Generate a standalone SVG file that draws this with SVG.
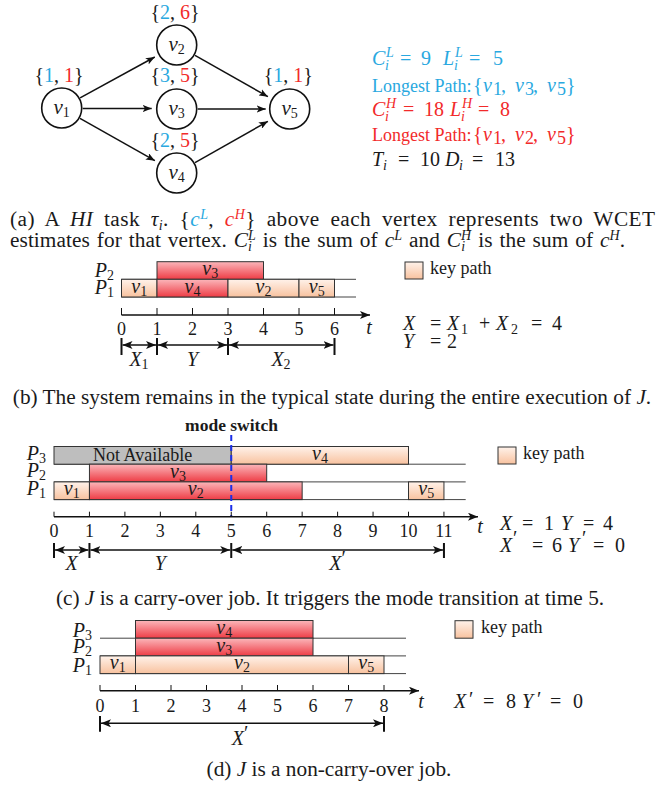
<svg xmlns="http://www.w3.org/2000/svg" width="665" height="787" viewBox="0 0 665 787">
<defs>
<linearGradient id="gK" x1="0" y1="0" x2="0" y2="1"><stop offset="0" stop-color="#fff2ea"/><stop offset="1" stop-color="#f8c29f"/></linearGradient>
<linearGradient id="gR" x1="0" y1="0" x2="0" y2="1"><stop offset="0" stop-color="#fbb6ba"/><stop offset="1" stop-color="#ee3c45"/></linearGradient>
<marker id="ah" viewBox="0 0 10 8" refX="10" refY="4" markerWidth="10" markerHeight="8" markerUnits="userSpaceOnUse" orient="auto-start-reverse"><path d="M0,0 L10,4 L0,8 L2.5,4 Z" fill="#111"/></marker>
<marker id="ahn" viewBox="0 0 10 8" refX="10" refY="4" markerWidth="9" markerHeight="7.2" markerUnits="userSpaceOnUse" orient="auto"><path d="M0,0 L10,4 L0,8 L2.5,4 Z" fill="#111"/></marker>
</defs>
<style>
text { font-family: "Liberation Serif", "Times New Roman", serif; fill: #1a1a1a; }
.i { font-style: italic; }
.cap { font-size: 21.3px; }
.cs { font-size: 14px; }
.lb { font-size: 18px; }
.vl { font-size: 20px; }
.m { font-size: 20px; }
.sm { font-size: 14px; }
.s { font-size: 14px; }
.k { fill: url(#gK); stroke: #333; stroke-width: 1; }
.r { fill: url(#gR); stroke: #333; stroke-width: 1; }
.g { fill: #bebebe; stroke: #333; stroke-width: 1; }
.row { stroke: #444; stroke-width: 1; fill: none; }
.ax { stroke: #111; stroke-width: 1.6; marker-end: url(#ah); fill: none; }
.tk { stroke: #111; stroke-width: 1; fill: none; }
.dim { stroke: #111; stroke-width: 1.6; marker-start: url(#ah); marker-end: url(#ah); }
.bd { stroke: #111; stroke-width: 2; fill: none; }
.node circle { fill: #fff; stroke: #111; stroke-width: 1.6; }
.edge { stroke: #111; stroke-width: 1.5; marker-end: url(#ahn); fill: none; }
.blue { fill: #29a8e0; }
.red { fill: #f22a2a; }
.mid { text-anchor: middle; }
.end { text-anchor: end; }
.ms { stroke: #1a2ee8; stroke-width: 2; stroke-dasharray: 6 4; }
</style>

<!-- (a) graph -->
<g id="edges">
<line class="edge" x1="80.1" y1="97.9" x2="154.8" y2="57"/>
<line class="edge" x1="82.7" y1="108.5" x2="151.7" y2="108.5"/>
<line class="edge" x1="80" y1="118.3" x2="154.9" y2="160.7"/>
<line class="edge" x1="195" y1="55.3" x2="267.9" y2="96.7"/>
<line class="edge" x1="197.7" y1="109" x2="265.7" y2="109"/>
<line class="edge" x1="195" y1="162.7" x2="267.9" y2="121.3"/>
</g>
<g id="v1" class="node">
<circle cx="61.7" cy="108" r="20"/>
<text class="mid" x="61.7" y="113.5" font-size="21"><tspan class="i">v</tspan><tspan font-size="14" dy="3">1</tspan></text>
<text class="mid" x="59" y="82" font-size="20" fill="#333">{<tspan class="blue">1</tspan>, <tspan class="red">1</tspan>}</text>
</g>
<g id="v2" class="node">
<circle cx="176.7" cy="45" r="20"/>
<text class="mid" x="176.7" y="50.5" font-size="21"><tspan class="i">v</tspan><tspan font-size="14" dy="3">2</tspan></text>
<text class="mid" x="175" y="19" font-size="20" fill="#333">{<tspan class="blue">2</tspan>, <tspan class="red">6</tspan>}</text>
</g>
<g id="v3" class="node">
<circle cx="176.7" cy="109" r="20"/>
<text class="mid" x="176.7" y="114.5" font-size="21"><tspan class="i">v</tspan><tspan font-size="14" dy="3">3</tspan></text>
<text class="mid" x="175" y="82" font-size="20" fill="#333">{<tspan class="blue">3</tspan>, <tspan class="red">5</tspan>}</text>
</g>
<g id="v4" class="node">
<circle cx="176.7" cy="173" r="20"/>
<text class="mid" x="176.7" y="178.5" font-size="21"><tspan class="i">v</tspan><tspan font-size="14" dy="3">4</tspan></text>
<text class="mid" x="175" y="147" font-size="20" fill="#333">{<tspan class="blue">2</tspan>, <tspan class="red">5</tspan>}</text>
</g>
<g id="v5" class="node">
<circle cx="289.7" cy="109" r="20"/>
<text class="mid" x="289.7" y="114.5" font-size="21"><tspan class="i">v</tspan><tspan font-size="14" dy="3">5</tspan></text>
<text class="mid" x="288.3" y="82" font-size="20" fill="#333">{<tspan class="blue">1</tspan>, <tspan class="red">1</tspan>}</text>
</g>

<!-- (a) right text -->
<g id="params">
<text class="m blue"><tspan class="i" x="372" y="65">C</tspan><tspan class="i sm" x="386" y="57">L</tspan><tspan class="i sm" x="385" y="70">i</tspan><tspan x="400" y="65">=</tspan><tspan x="421" y="65">9</tspan><tspan class="i" x="443" y="65">L</tspan><tspan class="i sm" x="455" y="57">L</tspan><tspan class="i sm" x="454" y="70">i</tspan><tspan x="469" y="65">=</tspan><tspan x="493" y="65">5</tspan></text>
<text class="lb blue"><tspan x="372" y="91.5">Longest Path:</tspan><tspan x="473" y="91.5" font-size="20">{</tspan><tspan class="i" x="483" y="91.5" font-size="20">v</tspan><tspan x="493" y="95">1</tspan><tspan x="501" y="91.5" font-size="20">,</tspan><tspan class="i" x="515" y="91.5" font-size="20">v</tspan><tspan x="525" y="95">3</tspan><tspan x="533" y="91.5" font-size="20">,</tspan><tspan class="i" x="547" y="91.5" font-size="20">v</tspan><tspan x="557" y="95">5</tspan><tspan x="566" y="91.5" font-size="20">}</tspan></text>
<text class="m red"><tspan class="i" x="372" y="116">C</tspan><tspan class="i sm" x="386" y="108">H</tspan><tspan class="i sm" x="385" y="121">i</tspan><tspan x="403" y="116">=</tspan><tspan x="424" y="116">18</tspan><tspan class="i" x="450" y="116">L</tspan><tspan class="i sm" x="462" y="108">H</tspan><tspan class="i sm" x="461" y="121">i</tspan><tspan x="478" y="116">=</tspan><tspan x="500" y="116">8</tspan></text>
<text class="lb red"><tspan x="372" y="140.7">Longest Path:</tspan><tspan x="473" y="140.7" font-size="20">{</tspan><tspan class="i" x="483" y="140.7" font-size="20">v</tspan><tspan x="493" y="144.2">1</tspan><tspan x="501" y="140.7" font-size="20">,</tspan><tspan class="i" x="515" y="140.7" font-size="20">v</tspan><tspan x="525" y="144.2">2</tspan><tspan x="533" y="140.7" font-size="20">,</tspan><tspan class="i" x="547" y="140.7" font-size="20">v</tspan><tspan x="557" y="144.2">5</tspan><tspan x="566" y="140.7" font-size="20">}</tspan></text>
<text class="m"><tspan class="i" x="372" y="166">T</tspan><tspan class="i sm" x="383" y="170">i</tspan><tspan x="398" y="166">=</tspan><tspan x="420" y="166">10</tspan><tspan class="i" x="445" y="166">D</tspan><tspan class="i sm" x="459" y="170">i</tspan><tspan x="472" y="166">=</tspan><tspan x="495" y="166">13</tspan></text>
</g>

<!-- caption (a) -->
<text class="cap" x="10" y="226" word-spacing="5" textLength="645" lengthAdjust="spacing">(a) A <tspan class="i">HI</tspan> task <tspan class="i">τ</tspan><tspan class="cs i" dy="4">i</tspan><tspan dy="-4">. {</tspan><tspan class="i blue">c</tspan><tspan class="cs i blue" dy="-7">L</tspan><tspan dy="7">, </tspan><tspan class="i red">c</tspan><tspan class="cs i red" dy="-7">H</tspan><tspan dy="7">} above each vertex represents two WCET</tspan></text>
<text class="cap" x="10" y="247" word-spacing="1.5" textLength="615" lengthAdjust="spacing">estimates for that vertex. <tspan class="i">C</tspan><tspan class="cs i" dy="-7">L</tspan><tspan class="cs i" dx="-7.8" dy="11">i</tspan><tspan dx="3.9" dy="-4"> is the sum of </tspan><tspan class="i">c</tspan><tspan class="cs i" dy="-7">L</tspan><tspan dy="7"> and </tspan><tspan class="i">C</tspan><tspan class="cs i" dy="-7">H</tspan><tspan class="cs i" dx="-10.1" dy="11">i</tspan><tspan dx="6.2" dy="-4"> is the sum of </tspan><tspan class="i">c</tspan><tspan class="cs i" dy="-7">H</tspan><tspan dy="7">.</tspan></text>

<!-- (b) -->
<g id="chart-b">
<path class="row" d="M121.5,279.3 H356 M121.5,297 H356"/>
<rect class="r" x="157" y="261.7" width="106.5" height="17.6"/>
<rect class="k" x="121.5" y="279.3" width="35.5" height="17.7"/>
<rect class="r" x="157" y="279.3" width="71" height="17.7"/>
<rect class="k" x="228" y="279.3" width="71" height="17.7"/>
<rect class="k" x="299" y="279.3" width="35.5" height="17.7"/>
<text class="vl mid" x="210.2" y="275"><tspan class="i">v</tspan><tspan class="s" dy="3">3</tspan></text>
<text class="vl mid" x="139.2" y="292.7"><tspan class="i">v</tspan><tspan class="s" dy="3">1</tspan></text>
<text class="vl mid" x="192.5" y="292.7"><tspan class="i">v</tspan><tspan class="s" dy="3">4</tspan></text>
<text class="vl mid" x="263.5" y="292.7"><tspan class="i">v</tspan><tspan class="s" dy="3">2</tspan></text>
<text class="vl mid" x="316.7" y="292.7"><tspan class="i">v</tspan><tspan class="s" dy="3">5</tspan></text>
<text class="vl end" x="114" y="276.5"><tspan class="i">P</tspan><tspan class="s" dy="3">2</tspan></text>
<text class="vl end" x="114" y="294"><tspan class="i">P</tspan><tspan class="s" dy="3">1</tspan></text>
<line class="ax" x1="121.5" y1="315" x2="370" y2="315"/>
<path class="tk" d="M121.5,308V315M157,308V315M192.5,308V315M228,308V315M263.5,308V315M299,308V315M334.5,308V315"/>
<g class="lb mid">
<text x="121.5" y="335">0</text><text x="157" y="335">1</text><text x="192.5" y="335">2</text><text x="228" y="335">3</text><text x="263.5" y="335">4</text><text x="299" y="335">5</text><text x="334.5" y="335">6</text>
<text class="i vl" x="369" y="334">t</text>
</g>
<path class="bd" d="M121.5,338V355M157,338V355M228,338V355M334.5,338V355"/>
<line class="dim" x1="122.5" y1="345" x2="156" y2="345"/>
<line class="dim" x1="158" y1="345" x2="227" y2="345"/>
<line class="dim" x1="229" y1="345" x2="333.5" y2="345"/>
<text class="vl mid" x="139" y="366"><tspan class="i">X</tspan><tspan class="s" dy="3">1</tspan></text>
<text class="vl mid i" x="192.5" y="366">Y</text>
<text class="vl mid" x="281" y="366"><tspan class="i">X</tspan><tspan class="s" dy="3">2</tspan></text>
</g>
<g id="legend-b">
<rect class="k" x="405" y="262" width="18" height="17"/>
<text class="lb" x="430" y="273.5">key path</text>
</g>
<text class="m"><tspan class="i" x="403" y="330">X</tspan><tspan x="430" y="330">=</tspan><tspan class="i" x="447" y="330">X</tspan><tspan class="sm" x="461" y="334">1</tspan><tspan x="479" y="330">+</tspan><tspan class="i" x="496" y="330">X</tspan><tspan class="sm" x="511" y="334">2</tspan><tspan x="531" y="330">=</tspan><tspan x="552" y="330">4</tspan></text>
<text class="m"><tspan class="i" x="403" y="348">Y</tspan><tspan x="430" y="348">=</tspan><tspan x="447" y="348">2</tspan></text>
<text class="cap mid" x="332" y="404">(b) The system remains in the typical state during the entire execution of <tspan class="i">J</tspan>.</text>

<!-- (c) -->
<g id="chart-c">
<text x="231.5" y="431" class="mid" font-size="17.5" font-weight="bold">mode switch</text>
<path class="row" d="M54,464.2 H465.7 M54,481.9 H465.7 M54,499.6 H465.7"/>
<rect class="g" x="54" y="446.5" width="177.25" height="17.7"/>
<rect class="k" x="231.25" y="446.5" width="177.25" height="17.7"/>
<rect class="r" x="89.45" y="464.2" width="177.25" height="17.7"/>
<rect class="k" x="54" y="481.9" width="35.45" height="17.7"/>
<rect class="r" x="89.45" y="481.9" width="212.7" height="17.7"/>
<rect class="k" x="408.5" y="481.9" width="35.45" height="17.7"/>
<text class="lb mid" x="142.6" y="460.5">Not Available</text>
<text class="vl mid" x="320" y="460"><tspan class="i">v</tspan><tspan class="s" dy="3">4</tspan></text>
<text class="vl mid" x="178" y="477.5"><tspan class="i">v</tspan><tspan class="s" dy="3">3</tspan></text>
<text class="vl mid" x="71.7" y="495.3"><tspan class="i">v</tspan><tspan class="s" dy="3">1</tspan></text>
<text class="vl mid" x="195.8" y="495.3"><tspan class="i">v</tspan><tspan class="s" dy="3">2</tspan></text>
<text class="vl mid" x="426.2" y="495.3"><tspan class="i">v</tspan><tspan class="s" dy="3">5</tspan></text>
<line class="ms" x1="231.25" y1="435" x2="231.25" y2="516"/>
<text class="vl end" x="46" y="460"><tspan class="i">P</tspan><tspan class="s" dy="3">3</tspan></text>
<text class="vl end" x="46" y="476.5"><tspan class="i">P</tspan><tspan class="s" dy="3">2</tspan></text>
<text class="vl end" x="46" y="495"><tspan class="i">P</tspan><tspan class="s" dy="3">1</tspan></text>
<line class="ax" x1="54" y1="516.7" x2="478" y2="516.7"/>
<path class="tk" d="M54,511.7V516.7M89.45,511.7V516.7M124.9,511.7V516.7M160.35,511.7V516.7M195.8,511.7V516.7M231.25,511.7V516.7M266.7,511.7V516.7M302.15,511.7V516.7M337.6,511.7V516.7M373.05,511.7V516.7M408.5,511.7V516.7M443.95,511.7V516.7"/>
<g class="lb mid">
<text x="54" y="537">0</text><text x="89.45" y="537">1</text><text x="124.9" y="537">2</text><text x="160.35" y="537">3</text><text x="195.8" y="537">4</text><text x="231.25" y="537">5</text><text x="266.7" y="537">6</text><text x="302.15" y="537">7</text><text x="337.6" y="537">8</text><text x="373.05" y="537">9</text><text x="408.5" y="537">10</text><text x="443.95" y="537">11</text>
<text class="i vl" x="480" y="533">t</text>
</g>
<path class="bd" d="M54,543V558M89.45,543V558M231.25,543V558M443.95,543V558"/>
<line class="dim" x1="55" y1="550" x2="88.45" y2="550"/>
<line class="dim" x1="90.45" y1="550" x2="230.25" y2="550"/>
<line class="dim" x1="232.25" y1="550" x2="442.95" y2="550"/>
<text class="vl mid i" x="71.7" y="570">X</text>
<text class="vl mid i" x="160.4" y="570">Y</text>
<text class="vl mid" x="337.6" y="570"><tspan class="i">X</tspan><tspan dy="-5">′</tspan></text>
</g>
<g id="legend-c">
<rect class="k" x="498" y="447" width="18" height="17"/>
<text class="lb" x="523" y="458.5">key path</text>
</g>
<text class="m"><tspan class="i" x="500" y="530">X</tspan><tspan x="522" y="530">=</tspan><tspan x="544" y="530">1</tspan><tspan class="i" x="561" y="530">Y</tspan><tspan x="583" y="530">=</tspan><tspan x="603" y="530">4</tspan></text>
<text class="m"><tspan class="i" x="500" y="551.5">X</tspan><tspan x="513" y="545">′</tspan><tspan x="532" y="551.5">=</tspan><tspan x="552" y="551.5">6</tspan><tspan class="i" x="568" y="551.5">Y</tspan><tspan x="582" y="545">′</tspan><tspan x="593" y="551.5">=</tspan><tspan x="615" y="551.5">0</tspan></text>
<text class="cap mid" x="330" y="605">(c) <tspan class="i">J</tspan> is a carry-over job. It triggers the mode transition at time 5.</text>

<!-- (d) -->
<g id="chart-d">
<path class="row" d="M100,638.2 H406 M100,655.9 H406 M100,673.6 H406"/>
<rect class="r" x="135.5" y="620.5" width="177.5" height="17.7"/>
<rect class="r" x="135.5" y="638.2" width="177.5" height="17.7"/>
<rect class="k" x="100" y="655.9" width="35.5" height="17.7"/>
<rect class="k" x="135.5" y="655.9" width="213" height="17.7"/>
<rect class="k" x="348.5" y="655.9" width="35.5" height="17.7"/>
<text class="vl mid" x="224.2" y="634"><tspan class="i">v</tspan><tspan class="s" dy="3">4</tspan></text>
<text class="vl mid" x="224.2" y="651.5"><tspan class="i">v</tspan><tspan class="s" dy="3">3</tspan></text>
<text class="vl mid" x="117.7" y="669.3"><tspan class="i">v</tspan><tspan class="s" dy="3">1</tspan></text>
<text class="vl mid" x="242" y="669.3"><tspan class="i">v</tspan><tspan class="s" dy="3">2</tspan></text>
<text class="vl mid" x="366.2" y="669.3"><tspan class="i">v</tspan><tspan class="s" dy="3">5</tspan></text>
<text class="vl end" x="92" y="636.5"><tspan class="i">P</tspan><tspan class="s" dy="3">3</tspan></text>
<text class="vl end" x="92" y="653"><tspan class="i">P</tspan><tspan class="s" dy="3">2</tspan></text>
<text class="vl end" x="92" y="671.5"><tspan class="i">P</tspan><tspan class="s" dy="3">1</tspan></text>
<line class="ax" x1="100" y1="690.7" x2="419" y2="690.7"/>
<path class="tk" d="M100,685V690.7M135.5,685V690.7M171,685V690.7M206.5,685V690.7M242,685V690.7M277.5,685V690.7M313,685V690.7M348.5,685V690.7M384,685V690.7"/>
<g class="lb mid">
<text x="100" y="711.5">0</text><text x="135.5" y="711.5">1</text><text x="171" y="711.5">2</text><text x="206.5" y="711.5">3</text><text x="242" y="711.5">4</text><text x="277.5" y="711.5">5</text><text x="313" y="711.5">6</text><text x="348.5" y="711.5">7</text><text x="384" y="711.5">8</text>
<text class="i vl" x="421" y="708">t</text>
</g>
<path class="bd" d="M100,716V731.7M384,716V731.7"/>
<line class="dim" x1="101" y1="723.3" x2="383" y2="723.3"/>
<text class="vl mid" x="240" y="745"><tspan class="i">X</tspan><tspan dy="-5">′</tspan></text>
</g>
<g id="legend-d">
<rect class="k" x="455" y="620.7" width="18" height="17.5"/>
<text class="lb" x="481" y="633">key path</text>
</g>
<text class="m"><tspan class="i" x="454" y="708">X</tspan><tspan x="469" y="706">′</tspan><tspan x="483" y="708">=</tspan><tspan x="506" y="708">8</tspan><tspan class="i" x="522" y="708">Y</tspan><tspan x="537" y="706">′</tspan><tspan x="550" y="708">=</tspan><tspan x="573" y="708">0</tspan></text>
<text class="cap mid" x="329" y="776">(d) <tspan class="i">J</tspan> is a non-carry-over job.</text>
</svg>
